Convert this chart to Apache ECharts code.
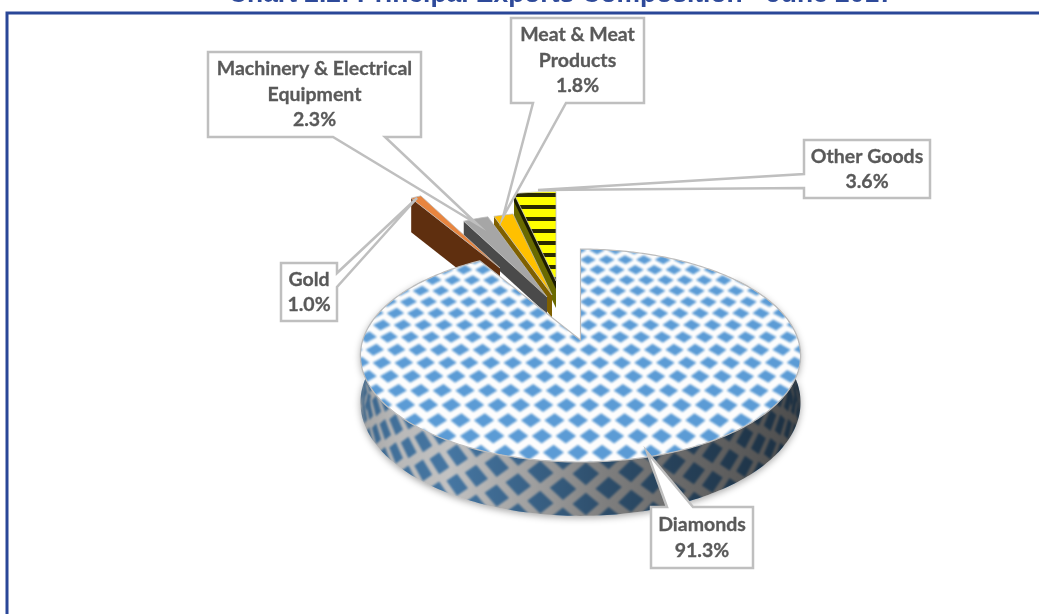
<!DOCTYPE html>
<html><head><meta charset="utf-8">
<style>html,body{margin:0;padding:0;background:#fff}#c{width:1039px;height:614px}</style>
<script src="https://cdn.jsdelivr.net/npm/echarts@6/dist/echarts.min.js"></script>
</head><body><div id="c"></div>
<script>
// ---- data ----
const chartTitle = 'Chart 2.2: Principal Exports Composition - June 2017';
const categories = ['Diamonds', 'Gold', 'Machinery & Electrical\nEquipment', 'Meat & Meat\nProducts', 'Other Goods'];
const shares = [91.3, 1.0, 2.3, 1.8, 3.6];

// ---- view: perspective of the 3D pie ----
const AX = 580.5, AY = 340, CX = 217.7, BY = 104.2, P = 0.146, DEPTH = 46;
const W = 1039, H = 614;
const sliceStyle = [
  null,
  {dx: -80.5, dy: -72, r: .87, top: '#e8853f', faces: [['#5f2f0f', 34]]},
  {dx: -33.5, dy: -43, r: .92, top: '#a6a6a6', faces: [['#4a4a4a', 17]]},
  {dx: -28.5, dy: -45, r: .90, top: '#ffc000', faces: [['#7f6000', 23]]},
  {dx: -24.5, dy: -59, r: .98, top: 'stripes', faces: [['#6a6a00', 27], ['#1a1a00', 8]]}
];
const drawOrder = [4, 3, 2, 1, 0];
// callouts: box [x0,y0,x1,y1], tail [base a, tip, base b] in outline order
const callouts = [
  {box: [651, 507, 753, 568], edge: 'top', tail: [[667, 507], [647, 452], [693, 507]]},
  {box: [281, 263, 337, 321], edge: 'right', tail: [[337, 273], [417, 198], [337, 287]]},
  {box: [208, 52, 421, 137], edge: 'bottom', tail: [[385, 137], [477, 224], [333, 137]]},
  {box: [511, 18, 644, 103], edge: 'bottom', tail: [[566, 103], [503, 217], [533, 103]]},
  {box: [804, 140, 930, 198], edge: 'left', tail: [[804, 188], [538, 190], [804, 174]]}
];

function proj(u, v, h) {
  const f = 1 / (1 - P * v);
  return [AX + CX * u * f, AY + BY * v * f + (h || 0) * DEPTH * f];
}
function polar(deg, r, h) {
  const a = deg * Math.PI / 180;
  return proj(r * Math.sin(a), -r * Math.cos(a), h);
}
const cum = []; shares.reduce((s, v, i) => { cum[i] = s; return s + v; }, 0);
const total = shares.reduce((a, b) => a + b, 0);
const startDeg = i => cum[i] / total * 360;
const endDeg = i => (cum[i] + shares[i]) / total * 360;

// ---- textures ----
function mk(w, h) { const c = document.createElement('canvas'); c.width = w; c.height = h; return c; }
function poly(ctx, pts) { ctx.beginPath(); pts.forEach((p, i) => i ? ctx.lineTo(p[0], p[1]) : ctx.moveTo(p[0], p[1])); ctx.closePath(); ctx.fill(); }
function topTexture() {
  const c = mk(W, H), g = c.getContext('2d');
  g.fillStyle = '#fdfdfd'; g.fillRect(0, 0, W, H);
  g.filter = 'blur(1px)'; g.fillStyle = '#5b9bd5';
  const du = .097, dv = .12, u0 = .038, v0 = .572;
  for (let j = -20; j <= 20; j++) for (let i = -16; i <= 16; i++) {
    const v = v0 + j * dv, u = u0 + i * du + (j % 2 ? du / 2 : 0);
    if (u * u + v * v > 1.3) continue;
    const a = du * .43, b = dv * .46;
    poly(g, [proj(u - a, v), proj(u, v - b), proj(u + a, v), proj(u, v + b)]);
  }
  return c;
}
function sideTexture() {
  const c = mk(W, H), g = c.getContext('2d');
  g.fillStyle = '#fff'; g.fillRect(0, 0, W, H);
  g.filter = 'blur(1px)'; g.fillStyle = '#5b9bd5';
  const dth = 10.3, dh = .28, a = 3, b = .21;
  for (let k = -2; k <= 5; k++) for (let i = -14; i <= 14; i++) {
    const th = 168.5 + i * dth + (k % 2 ? dth / 2 : 0), h = .22 + k * dh;
    poly(g, [polar(th - a, 1, h), polar(th, 1, h - b), polar(th + a, 1, h), polar(th, 1, h + b)]);
  }
  return c;
}
function stripeTexture() {
  const c = mk(4, 12), g = c.getContext('2d');
  g.fillStyle = '#ffff00'; g.fillRect(0, 0, 4, 12);
  g.fillStyle = '#2a2a00'; g.fillRect(0, 1, 4, 4);
  return c;
}
const texTop = {image: topTexture(), repeat: 'repeat'};
const texSide = {image: sideTexture(), repeat: 'repeat'};
const texStripe = {image: stripeTexture(), repeat: 'repeat'};

function polygon(points, style) { return {type: 'polygon', shape: {points}, style}; }

function renderSlice(params, api) {
  const i = api.value(1);
  const a0 = startDeg(i), a1 = endDeg(i), kids = [];
  if (i === 0) {
    const lo = 50, hi = Math.min(310, a1), pts = [];
    for (let t = lo; t <= hi; t += 1) pts.push(polar(t, 1, 0));
    for (let t = hi; t >= lo; t -= 1) pts.push(polar(t, 1, 1));
    kids.push(polygon(pts, {fill: texSide, shadowBlur: 7, shadowColor: 'rgba(0,0,0,.35)', shadowOffsetY: 2}));
    kids.push(polygon(pts, {fill: new echarts.graphic.LinearGradient(361, 0, 802, 0, [
      {offset: 0, color: 'rgba(0,0,0,.36)'}, {offset: .08, color: 'rgba(0,0,0,.28)'},
      {offset: .2, color: 'rgba(0,0,0,.24)'}, {offset: .42, color: 'rgba(0,0,0,.4)'},
      {offset: .55, color: 'rgba(0,0,0,.5)'}, {offset: .75, color: 'rgba(0,0,0,.6)'},
      {offset: 1, color: 'rgba(0,0,0,.7)'}], true)}));
    const topPts = [proj(0, 0)];
    for (let t = a0; t <= a1; t += 1) topPts.push(polar(t, 1, 0));
    topPts.push(polar(a1, 1, 0));
    kids.push(polygon(topPts, {fill: texTop, stroke: '#bdbdbd', lineWidth: 1.2}));
  } else {
    const s = sliceStyle[i];
    const shift = p => [p[0] + s.dx, p[1] + s.dy];
    const apex = shift(proj(0, 0)), rimStart = shift(polar(a0, s.r, 0));
    s.faces.forEach(([col, d]) => {
      kids.push(polygon([apex, rimStart, [rimStart[0], rimStart[1] + d], [apex[0], apex[1] + d]], {fill: col}));
    });
    const pts = [apex];
    for (let t = a0; t < a1; t += 1) pts.push(shift(polar(t, s.r, 0)));
    pts.push(shift(polar(a1, s.r, 0)));
    kids.push(polygon(pts, {fill: s.top === 'stripes' ? texStripe : s.top, stroke: 'rgba(190,190,190,.75)', lineWidth: 1}));
  }
  return {type: 'group', children: kids};
}

function renderCallout(params, api) {
  const i = api.value(1), c = callouts[i], [x0, y0, x1, y1] = c.box, t = c.tail;
  let pts;
  if (c.edge === 'top') pts = [[x0, y0], t[0], t[1], t[2], [x1, y0], [x1, y1], [x0, y1]];
  else if (c.edge === 'right') pts = [[x0, y0], [x1, y0], t[0], t[1], t[2], [x1, y1], [x0, y1]];
  else if (c.edge === 'bottom') pts = [[x0, y0], [x1, y0], [x1, y1], t[0], t[1], t[2], [x0, y1]];
  else pts = [[x0, y0], [x1, y0], [x1, y1], [x0, y1], t[0], t[1], t[2]];
  return {type: 'group', children: [
    polygon(pts, {fill: '#fff', stroke: '#bfbfbf', lineWidth: 2.5, lineJoin: 'miter'}),
    {type: 'text', style: {
      text: categories[i] + '\n' + shares[i].toFixed(1) + '%',
      x: (x0 + x1) / 2, y: (y0 + y1) / 2, align: 'center', verticalAlign: 'middle',
      fontFamily: 'Lato', fontWeight: 'bold', fontSize: 19.5, lineHeight: 25.5, fill: '#595959',
      stroke: '#595959', lineWidth: 0.3
    }}
  ]};
}

const chart = echarts.init(document.getElementById('c'), null, {renderer: 'canvas', width: W, height: H});
chart.setOption({
  animation: false,
  backgroundColor: '#fff',
  title: {text: chartTitle, left: 228, top: -18, padding: 0,
    textStyle: {fontFamily: 'Liberation Sans', fontWeight: 'bold', fontSize: 26.4, color: '#2e4a9a'}},
  graphic: [{type: 'rect', z: 0, shape: {x: 7, y: 13, width: 1200, height: 800}, style: {fill: 'none', stroke: '#2a4798', lineWidth: 3}}],
  series: [
    {type: 'custom', coordinateSystem: 'none', z: 2, renderItem: renderSlice, silent: true,
      data: drawOrder.map(i => ({name: categories[i], value: [shares[i], i]}))},
    {type: 'custom', coordinateSystem: 'none', z: 3, renderItem: renderCallout, silent: true,
      data: categories.map((n, i) => ({name: n, value: [shares[i], i]}))}
  ]
});
</script></body></html>
